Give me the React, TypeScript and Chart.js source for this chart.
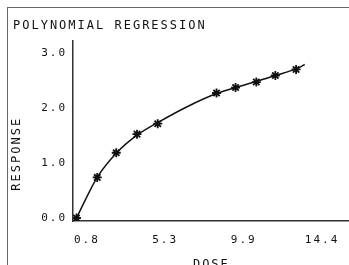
import React, { useEffect, useRef } from "react";
import { Chart, registerables } from "chart.js";

Chart.register(...registerables);

// Observed data points (asterisks)
const doseValues = [0.2, 1.4, 2.5, 3.7, 4.9, 8.3, 9.4, 10.6, 11.7, 12.9];
const responseValues = [0.0, 0.74, 1.19, 1.53, 1.72, 2.28, 2.38, 2.48, 2.6, 2.71];

// Fitted polynomial curve
const fitDose = [0.2, 1.4, 2.5, 3.7, 4.9, 6.6, 8.3, 9.4, 10.6, 11.7, 12.9, 13.4];
const fitResponse = [0.0, 0.74, 1.18, 1.51, 1.74, 2.03, 2.27, 2.38, 2.49, 2.6, 2.72, 2.8];

// Axis ticks
const xTickValues = [0.8, 5.33, 9.87, 14.4];
const xTickLabels = ["0.8", "5.3", "9.9", "14.4"];
const yTickValues = [0, 1, 2, 3];
const yTickLabels = ["0.0", "1.0", "2.0", "3.0"];

const FONT = "'DejaVu Sans Mono', 'Liberation Mono', monospace";
const INK = "#111";

const spacingPlugin = {
  id: "letterSpacing",
  beforeUpdate(chart: any) {
    chart.ctx.letterSpacing = "2px";
  },
  beforeDraw(chart: any) {
    chart.ctx.letterSpacing = "2px";
  },
};

export default function App() {
  const ref = useRef<HTMLCanvasElement | null>(null);

  useEffect(() => {
    if (!ref.current) return;
    const chart = new Chart(ref.current, {
      type: "scatter",
      data: {
        datasets: [
          {
            type: "line",
            data: fitDose.map((x, i) => ({ x, y: fitResponse[i] })),
            borderColor: INK,
            borderWidth: 1.5,
            pointRadius: 0,
            cubicInterpolationMode: "monotone",
            fill: false,
          } as any,
          {
            type: "scatter",
            data: doseValues.map((x, i) => ({ x, y: responseValues[i] })),
            pointStyle: "star",
            pointRadius: 4.5,
            borderColor: INK,
            backgroundColor: INK,
            pointBorderWidth: 1.8,
            showLine: false,
          } as any,
        ],
      },
      options: {
        animation: false,
        responsive: false,
        events: [],
        layout: { padding: { left: 13, top: 0, right: 0, bottom: 0 } },
        plugins: {
          legend: { display: false },
          tooltip: { enabled: false },
          title: {
            display: true,
            text: "POLYNOMIAL REGRESSION",
            align: "start",
            color: INK,
            font: { family: FONT, size: 12, weight: "normal", lineHeight: 1.2 },
            padding: { top: 19, bottom: 7 },
          },
        },
        scales: {
          x: {
            type: "linear",
            min: 0,
            max: 16,
            afterBuildTicks: (scale: any) => {
              scale.ticks = xTickValues.map((v) => ({ value: v }));
            },
            afterFit: (scale: any) => {
              scale.height = 54;
            },
            grid: { display: false, drawTicks: false },
            border: { display: true, color: "#333", width: 1.5 },
            ticks: {
              color: INK,
              padding: 13,
              maxRotation: 0,
              autoSkip: false,
              font: { family: FONT, size: 11 },
              callback: (_v: any, i: number) => xTickLabels[i],
            },
            title: {
              display: true,
              text: "DOSE",
              color: INK,
              font: { family: FONT, size: 12, lineHeight: 1.2 },
              padding: { top: 4, bottom: 3 },
            },
          },
          y: {
            type: "linear",
            min: -0.055,
            max: 3.24,
            afterBuildTicks: (scale: any) => {
              scale.ticks = yTickValues.map((v) => ({ value: v }));
            },
            afterFit: (scale: any) => {
              scale.width = 60;
            },
            grid: { display: false, drawTicks: false },
            border: { display: true, color: "#333", width: 1.5 },
            ticks: {
              color: INK,
              padding: 6,
              autoSkip: false,
              font: { family: FONT, size: 11 },
              callback: (_v: any, i: number) => yTickLabels[i],
            },
            title: {
              display: true,
              text: "RESPONSE     ",
              color: INK,
              font: { family: FONT, size: 12, lineHeight: 1.2 },
              padding: { top: -3, bottom: 0 },
            },
          },
        },
      },
      plugins: [spacingPlugin],
    } as any);
    return () => chart.destroy();
  }, []);

  return (
    <div
      style={{
        position: "fixed",
        left: 0,
        top: 0,
        width: 349,
        height: 265,
        overflow: "hidden",
        background: "#fff",
      }}
    >
      <div
        style={{
          position: "absolute",
          left: 7,
          top: 7,
          width: 360,
          height: 280,
          borderLeft: "1px solid #666",
          borderTop: "1px solid #666",
        }}
      />
      <canvas
        ref={ref}
        width={356}
        height={275}
        style={{ position: "absolute", left: 0, top: 0 }}
      />
    </div>
  );
}
